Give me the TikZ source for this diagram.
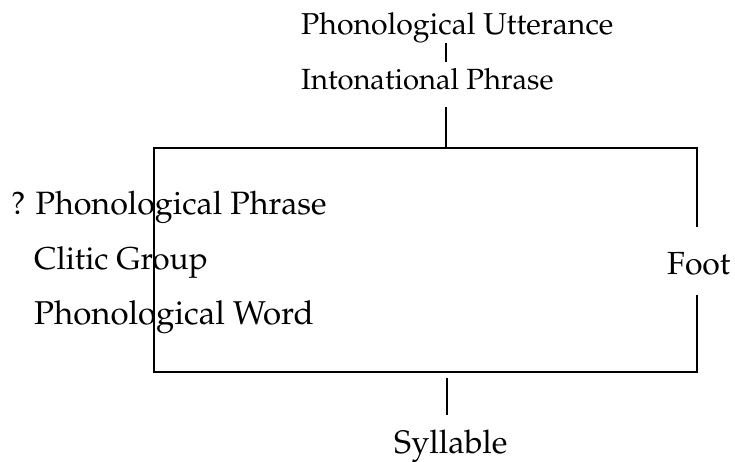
\documentclass[tikz,border=0pt]{standalone}
\usepackage[T1]{fontenc}
\usepackage{mathpazo}
\begin{document}
\begin{tikzpicture}[x=1pt,y=-1pt,
  lbl/.style={anchor=base west,inner sep=0pt,font=\fontsize{#1}{36}\selectfont},
  conn/.style={draw=black,line width=1.2pt}]
\useasboundingbox (0,0) rectangle (735,461);
% labels
\node[lbl=30.2] (PU) at (301,34) {Phonological Utterance};
\node[lbl=29.2] (IP) at (301,89) {Intonational Phrase};
\node[lbl=32.3] (PP) at (11,214) {? Phonological Phrase};
\node[lbl=31.6] (CG) at (34,269) {Clitic Group};
\node[lbl=33] (PW) at (34,324) {Phonological Word};
\node[lbl=32] (Foot) at (667,274) {Foot};
\node[lbl=32.5] (Syl) at (394,453) {Syllable};
% connector points
\coordinate (pu-b) at (446,43);
\coordinate (ip-t) at (446,62);
\coordinate (ip-b) at (446,107);
\coordinate (bx-tm) at (446,148);
\coordinate (bx-tl) at (154,148);
\coordinate (bx-bl) at (154,372);
\coordinate (bx-tr) at (697,148);
\coordinate (bx-br) at (697,372);
\coordinate (ft-t) at (697,227);
\coordinate (ft-b) at (697,295);
\coordinate (sy-t) at (447,378);
\coordinate (sy-b) at (447,415);
% connectors
\draw[conn] (pu-b) -- (ip-t);
\draw[conn] (ip-b) -- (bx-tm);
\draw[conn] (ft-t) -- (bx-tr) -- (bx-tl) -- (bx-bl) -- (bx-br) -- (ft-b);
\draw[conn] (sy-t) -- (sy-b);
\end{tikzpicture}
\end{document}
